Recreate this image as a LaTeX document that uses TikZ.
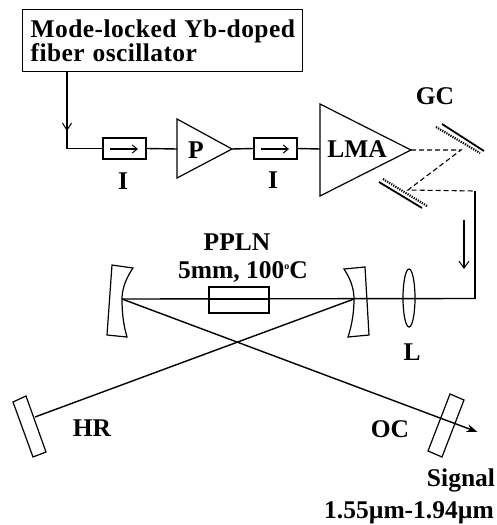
\documentclass[tikz,border=0pt]{standalone}
\usepackage{fontspec}
\setmainfont{Liberation Serif}
\usetikzlibrary{arrows.meta,shapes.geometric}
\tikzset{
  lbl/.style={inner sep=0pt,font=\fontsize{25.5}{25.5}\selectfont\bfseries},
  optic/.style={draw=black,line width=1.2pt,line join=miter},
  beam/.style={draw=black,line width=1.4pt},
  thinbeam/.style={draw=black,line width=1.1pt,dash pattern=on 5pt off 3pt},
  iso/.style={draw=black,line width=1.3pt,fill=white},
  vopen/.style={-{Straight Barb[length=7pt,width=9pt,line width=1pt]}},
  grate/.style={draw=black,line width=1.8pt},
  gratedot/.style={draw=black,line width=2.2pt,dash pattern=on 1.2pt off 1.2pt},
}
\begin{document}
\begin{tikzpicture}[x=1pt,y=-1pt]
\useasboundingbox (0,0) rectangle (497,525);
% source box
\node[draw=black,line width=1.4pt,inner sep=0pt,anchor=north west,
      text width=280pt,minimum height=62pt,align=left] (osc) at (22,9)
      {\hspace*{8pt}\fontsize{25.5}{30}\selectfont\bfseries\addfontfeature{LetterSpace=1.6}\spaceskip=8pt Mode-locked Yb-doped\\\hspace*{8pt}fiber oscillator};
% coordinates
\coordinate (oscout) at (67,71);
\coordinate (fc) at (67,148.5);
\coordinate (fa) at (67,131);
\node[iso,minimum width=43pt,minimum height=21pt,inner sep=0pt,anchor=center] (iso1) at (124.5,148.5) {};
\node[iso,minimum width=43pt,minimum height=21pt,inner sep=0pt,anchor=center] (iso2) at (275.5,148.5) {};
\coordinate (p1) at (177,119); \coordinate (p2) at (177,178); \coordinate (p3) at (232,149);
\coordinate (pin) at (177,149);
\coordinate (l1) at (320,104); \coordinate (l2) at (320,196); \coordinate (l3) at (411,150);
\coordinate (lin) at (320,149);
% fibre path
\draw[beam] (oscout) -- (fc) -- (iso1.west);
\draw[beam,vopen] (oscout) -- (fa);
\draw[beam] (iso1.east) -- (pin);
\draw[beam] (p3) -- (iso2.west);
\draw[beam] (iso2.east) -- (lin);
% isolator arrows
\coordinate (a1s) at (110,149); \coordinate (a1e) at (138,149);
\coordinate (a2s) at (261,149); \coordinate (a2e) at (289,149);
\draw[draw=black,line width=1.1pt,-{Straight Barb[length=5pt,width=8pt,line width=1pt]}] (a1s) -- (a1e);
\draw[draw=black,line width=1.1pt,-{Straight Barb[length=5pt,width=8pt,line width=1pt]}] (a2s) -- (a2e);
% amplifiers
\draw[optic] (p1) -- (p2) -- (p3) -- cycle;
\draw[optic] (l1) -- (l2) -- (l3) -- cycle;
\node[lbl] (Pl) at (196,150) {P};
\node[lbl] (Ll) at (357,149) {LMA};
\node[lbl] (I1) at (123,181) {I};
\node[lbl] (I2) at (273,180) {I};
\node[lbl] (GC) at (435,96) {GC};
% gratings
\coordinate (g1a) at (442,124); \coordinate (g1b) at (484,151);
\coordinate (g1c) at (436,127); \coordinate (g1d) at (480,153);
\coordinate (g2a) at (379,182); \coordinate (g2b) at (422,208);
\coordinate (g2c) at (383,179); \coordinate (g2d) at (427,206);
\draw[grate] (g1a) -- (g1b);
\draw[gratedot] (g1c) -- (g1d);
\draw[grate] (g2a) -- (g2b);
\draw[gratedot] (g2c) -- (g2d);
% dashed compressor path
\coordinate (d1) at (461,150); \coordinate (d2) at (408,190); \coordinate (d3) at (475,191);
\coordinate (corner) at (475,298.5);
\draw[thinbeam] (l3) -- (d1) -- (d2) -- (d3);
\draw[beam] (d3) -- (corner);
\coordinate (ars) at (464,220); \coordinate (are) at (464,269);
\draw[draw=black,line width=1.3pt,-{Straight Barb[length=7pt,width=10pt,line width=1pt]}] (ars) -- (are);
% cavity beams
\coordinate (m1) at (122,299); \coordinate (m2) at (354,299);
\coordinate (hrp) at (35,417); \coordinate (sig) at (477.5,432);
\draw[beam] (m1) -- (corner);
\draw[beam] (m2) -- (hrp);
\draw[draw=black,line width=1.4pt,-{Stealth[length=11pt,width=8pt]}] (m1) -- (sig);
% curved mirrors
\draw[optic] (112,265) -- (133,268) .. controls (124,281) and (122,292) .. (122,299)
   .. controls (122,315) and (124,327) .. (127,337) -- (107,335) -- cycle;
\draw[optic] (344,269) -- (365,267) -- (369,335) -- (348,337)
   .. controls (352,325) and (354,312) .. (354,299) .. controls (354,288) and (350,278) .. (344,269) -- cycle;
% lens
\node[draw=black,line width=1.2pt,ellipse,minimum width=12pt,minimum height=58pt,inner sep=0pt] (lens) at (409,298) {};
% crystal
\node[draw=black,line width=1.6pt,minimum width=60pt,minimum height=26pt,inner sep=0pt] (ppln) at (239,300) {};
\coordinate (pp1) at (209,299); \coordinate (pp2) at (269,299);
\draw[beam] (pp1) -- (pp2);
% flat mirrors
\draw[optic] (13,402) -- (26,396) -- (46,452) -- (33,457) -- cycle;
\draw[optic] (450,394) -- (464,400) -- (442,457) -- (428,451) -- cycle;
% labels
\node[lbl] (pl) at (237,242) {PPLN};
\node[lbl] (tl) at (243,272) {5mm, 100\raisebox{9pt}{\fontsize{10}{10}\selectfont o}C};
\node[lbl] (Lb) at (412,352) {L};
\node[lbl] (HR) at (92,428) {HR};
\node[lbl] (OC) at (390,429) {OC};
\node[lbl] (Sg) at (461,480) {Signal};
\node[lbl,anchor=east] (wl) at (494,513) {1.55µm-1.94µm};
\end{tikzpicture}
\end{document}
